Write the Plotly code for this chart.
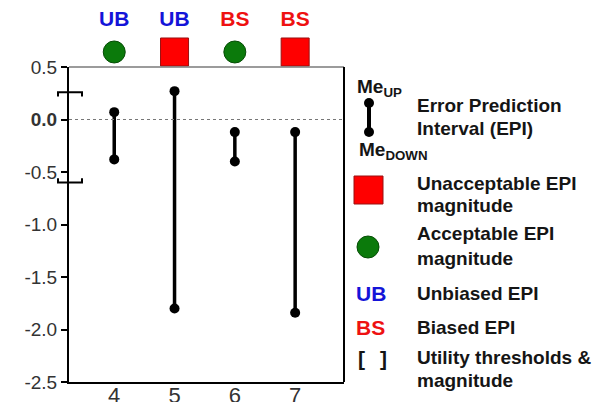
import plotly.graph_objects as go

# Error prediction intervals per case
cases = [4, 5, 6, 7]
me_up = [0.07, 0.27, -0.12, -0.12]
me_down = [-0.38, -1.80, -0.40, -1.84]
bias_labels = ["UB", "UB", "BS", "BS"]
magnitude_ok = [True, False, True, False]
utility_thresholds = [0.26, -0.60]

y_ticks = [0.5, 0.0, -0.5, -1.0, -1.5, -2.0, -2.5]
y_ticktext = ["0.5", "<b>0.0</b>", "-0.5", "-1.0", "-1.5", "-2.0", "-2.5"]

FONT = "Liberation Sans, Arial, sans-serif"
BLUE = "#1414d8"
RED = "#ee1111"
SQ_RED = "#ff0000"
GREEN = "#0b7a0b"
INK = "#151515"

W, H = 605, 402
L, R, T, B = 69, 344, 67, 382          # plot box in pixels
main_top = (B - T) / B                  # fraction of the plot height used by the main axis


def px(x):
    return (x - L) / (R - L)


def py(y):
    return (B - y) / B


fig = go.Figure()

# dumbbells: line from Me_DOWN to Me_UP with dots at both ends
for c, up, dn in zip(cases, me_up, me_down):
    fig.add_trace(go.Scatter(
        x=[c, c], y=[dn, up], mode="lines+markers",
        line=dict(color="black", width=3.5),
        marker=dict(color="black", size=10),
        showlegend=False, hoverinfo="skip"))

# status row above the plot: magnitude markers and bias labels
fig.add_trace(go.Scatter(
    x=cases, y=[0.224] * len(cases), yaxis="y2", mode="markers",
    marker=dict(
        symbol=["circle" if ok else "square" for ok in magnitude_ok],
        size=[22 if ok else 28 for ok in magnitude_ok],
        color=[GREEN if ok else SQ_RED for ok in magnitude_ok],
        opacity=1,
        line=dict(color=["#064d06" if ok else "#9a1010" for ok in magnitude_ok], width=1)),
    cliponaxis=False, showlegend=False, hoverinfo="skip"))
fig.add_trace(go.Scatter(
    x=cases, y=[0.69] * len(cases), yaxis="y2", mode="text",
    text=[f"<b>{b}</b>" for b in bias_labels],
    textfont=dict(family=FONT, size=21, color=[BLUE if b == "UB" else RED for b in bias_labels]),
    cliponaxis=False, showlegend=False, hoverinfo="skip"))

shapes = []
# dotted zero reference
shapes.append(dict(type="line", xref="paper", yref="y", x0=0, x1=1, y0=0, y1=0,
                   line=dict(color="#777777", width=1, dash="dot")))
# top and right border of the plot box
shapes.append(dict(type="line", xref="paper", yref="paper", x0=0, x1=1, y0=main_top, y1=main_top,
                   line=dict(color="#7a7a7a", width=1.5)))
shapes.append(dict(type="line", xref="paper", yref="paper", x0=1, x1=1, y0=0, y1=main_top,
                   line=dict(color="black", width=2)))
# utility threshold brackets on the y axis
d = 0.04
for i, t in enumerate(utility_thresholds):
    e = t - d if i == 0 else t + d
    shapes.append(dict(type="path", xref="paper", yref="y",
                       path=f"M {px(58)},{e} L {px(58)},{t} L {px(82)},{t} L {px(82)},{e}",
                       line=dict(color="black", width=2)))

# legend icons
shapes.append(dict(type="line", xref="paper", yref="paper", x0=px(369), x1=px(369), y0=py(103), y1=py(132),
                   line=dict(color="black", width=4)))
for yy in (103, 132):
    shapes.append(dict(type="circle", xref="paper", yref="paper", x0=px(364), x1=px(374),
                       y0=py(yy + 5), y1=py(yy - 5), fillcolor="black", line=dict(width=0)))
shapes.append(dict(type="rect", xref="paper", yref="paper", x0=px(354), x1=px(383), y0=py(204), y1=py(176),
                   fillcolor=SQ_RED, line=dict(color="#9a1010", width=1)))
shapes.append(dict(type="circle", xref="paper", yref="paper", x0=px(357), x1=px(379), y0=py(258), y1=py(236),
                   fillcolor=GREEN, line=dict(color="#064d06", width=1)))

annotations = []


def note(text, x, y, color=INK, size=19, anchor="left"):
    annotations.append(dict(text=text, x=px(x), y=py(y), xref="paper", yref="paper",
                            xanchor=anchor, yanchor="middle", showarrow=False,
                            font=dict(family=FONT, size=size, color=color)))


note("<b>Me<sub>UP</sub></b>", 355, 88)
note("<b>Me<sub>DOWN</sub></b>", 357, 151)
note("<b>Error Prediction</b>", 415, 105)
note("<b>Interval (EPI)</b>", 415, 128)
note("<b>Unacceptable EPI</b>", 415, 184)
note("<b>magnitude</b>", 415, 205)
note("<b>Acceptable EPI</b>", 415, 234)
note("<b>magnitude</b>", 415, 258)
note("<b>UB</b>", 354, 293, color=BLUE, size=21)
note("<b>Unbiased EPI</b>", 415, 293)
note("<b>BS</b>", 354, 327, color=RED, size=21)
note("<b>Biased EPI</b>", 415, 327)
note("<b>[</b>", 356, 358, size=21)
note("<b>]</b>", 378, 358, size=21)
note("<b>Utility thresholds &amp;</b>", 415, 357)
note("<b>magnitude</b>", 415, 380)

fig.update_layout(
    width=W, height=H,
    margin=dict(l=L, r=W - R, t=0, b=H - B, autoexpand=False),
    paper_bgcolor="white", plot_bgcolor="white",
    font=dict(family=FONT, color="#333333"),
    xaxis=dict(range=[3.25, 7.81], tickvals=cases, ticktext=[str(c) for c in cases],
               showline=True, linecolor="black", linewidth=2, showgrid=False, zeroline=False,
               ticks="", ticklabelstandoff=-7, automargin=False,
               tickfont=dict(size=22, color="#333333")),
    yaxis=dict(domain=[0, main_top], range=[-2.5, 0.5], tickvals=y_ticks, ticktext=y_ticktext,
               showline=True, linecolor="black", linewidth=2, showgrid=False, zeroline=False,
               ticks="outside", ticklen=6, tickwidth=1.5, tickcolor="black", automargin=False,
               tickfont=dict(size=19, color="#333333")),
    yaxis2=dict(domain=[main_top, 1], range=[0, 1], visible=False, anchor="x"),
    shapes=shapes, annotations=annotations,
)

fig.write_html("out.html")
